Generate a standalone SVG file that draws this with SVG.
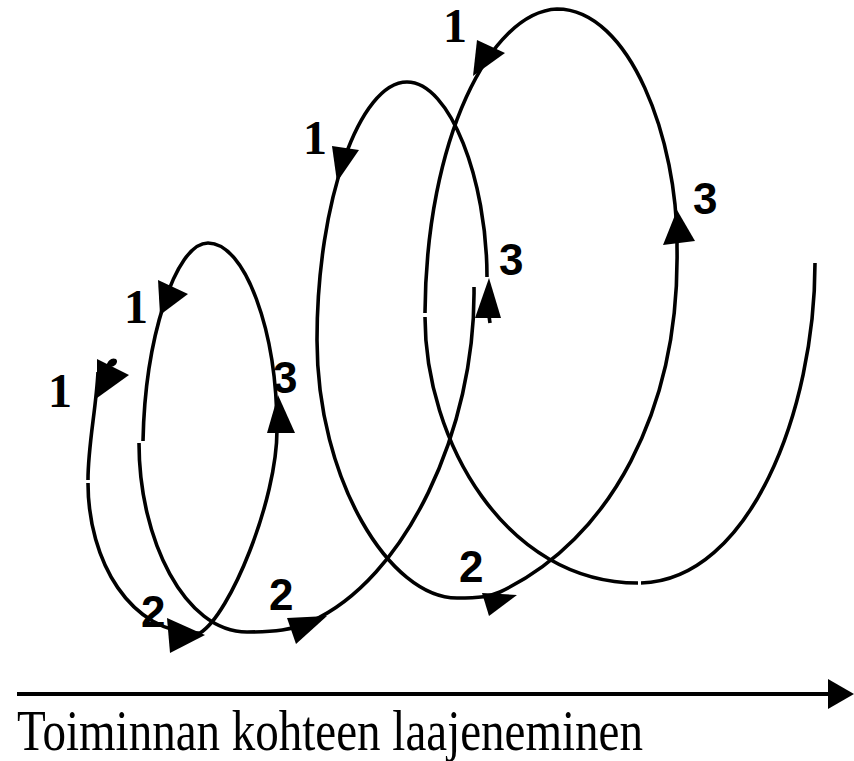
<svg xmlns="http://www.w3.org/2000/svg" width="854" height="761" viewBox="0 0 854 761">
<style>
.curve{fill:none;stroke:#000;stroke-width:3.6;stroke-linecap:butt;stroke-linejoin:round}
.head{fill:#000;stroke:none}
.one{font-family:"Liberation Serif","Times New Roman",serif;font-weight:bold;font-size:48px;fill:#000}
.num{font-family:"Liberation Sans",Arial,sans-serif;font-weight:bold;font-size:44px;fill:#000}
.cap{font-family:"Liberation Serif","Times New Roman",serif;font-size:57px;fill:#000}
</style>
<rect width="854" height="761" fill="#fff"/>
<g id="connectors">
  <g id="loop1">
    <path class="curve" d="M98,372 C96,410 88,445 88,480"/>
    <path class="curve" d="M88,483 C88,560 130,635 200,633 C230,615 277,500 277,430 C277,330 245,243 208,243 C175,243 145,340 143,441"/>
    <path d="M106,366 C108,360 112,357 116,359 C119,362 115,367 110,367 Z" fill="#000"/>
  </g>
  <g id="loop2">
    <path class="curve" d="M139,443 C139,540 185,632 247,632 C275,632 292,630 310,622 C405,580 476,430 474,287"/>
    <path class="curve" d="M487,277 C487,180 450,82 407,82 C360,82 317,200 317,340 C317,480 390,598 457,598 C480,598 490,596.5 500,592 C610,540 680,410 677,247 C678,140 630,9 557,9 C490,12 426,140 425,313"/>
    <path class="curve" d="M489,316 L490,323"/>
  </g>
  <g id="loop3">
    <path class="curve" d="M425,317 C425,440 505,583 638,583"/>
    <path class="curve" d="M641,583 C750,580 815,410 815,263"/>
  </g>
  <g id="arrowheads">
    <polygon class="head" points="97,359 129,375 97,398"/>
    <polygon class="head" points="167,618 205,635 170,653"/>
    <polygon class="head" points="278,395 295,433 267,433"/>
    <polygon class="head" points="158,280 188,294 160,315"/>
    <polygon class="head" points="287,618 327,616 296,644"/>
    <polygon class="head" points="489,278 501,318 475,318"/>
    <polygon class="head" points="332,146 359,150 337,182"/>
    <polygon class="head" points="482,593 517,595 489,616"/>
    <polygon class="head" points="677,210 695,241 663,245"/>
    <polygon class="head" points="477,40 505,53 473,76"/>
  </g>
  <g id="axis">
    <line x1="17" y1="694" x2="830" y2="694" stroke="#000" stroke-width="4"/>
    <polygon class="head" points="828,679 854,694 828,709"/>
  </g>
</g>
<g id="labels">
  <text class="one" x="48" y="407">1</text>
  <text class="one" x="124" y="323">1</text>
  <text class="one" x="303" y="154">1</text>
  <text class="one" x="443" y="42">1</text>
  <text class="num" x="273" y="393">3</text>
  <text class="num" x="499" y="275">3</text>
  <text class="num" x="693" y="214">3</text>
  <text class="num" x="141" y="627">2</text>
  <text class="num" x="269" y="610">2</text>
  <text class="num" x="459" y="582">2</text>
</g>
<g id="caption">
  <text class="cap" x="17" y="750" textLength="626" lengthAdjust="spacingAndGlyphs">Toiminnan kohteen laajeneminen</text>
</g>
</svg>
